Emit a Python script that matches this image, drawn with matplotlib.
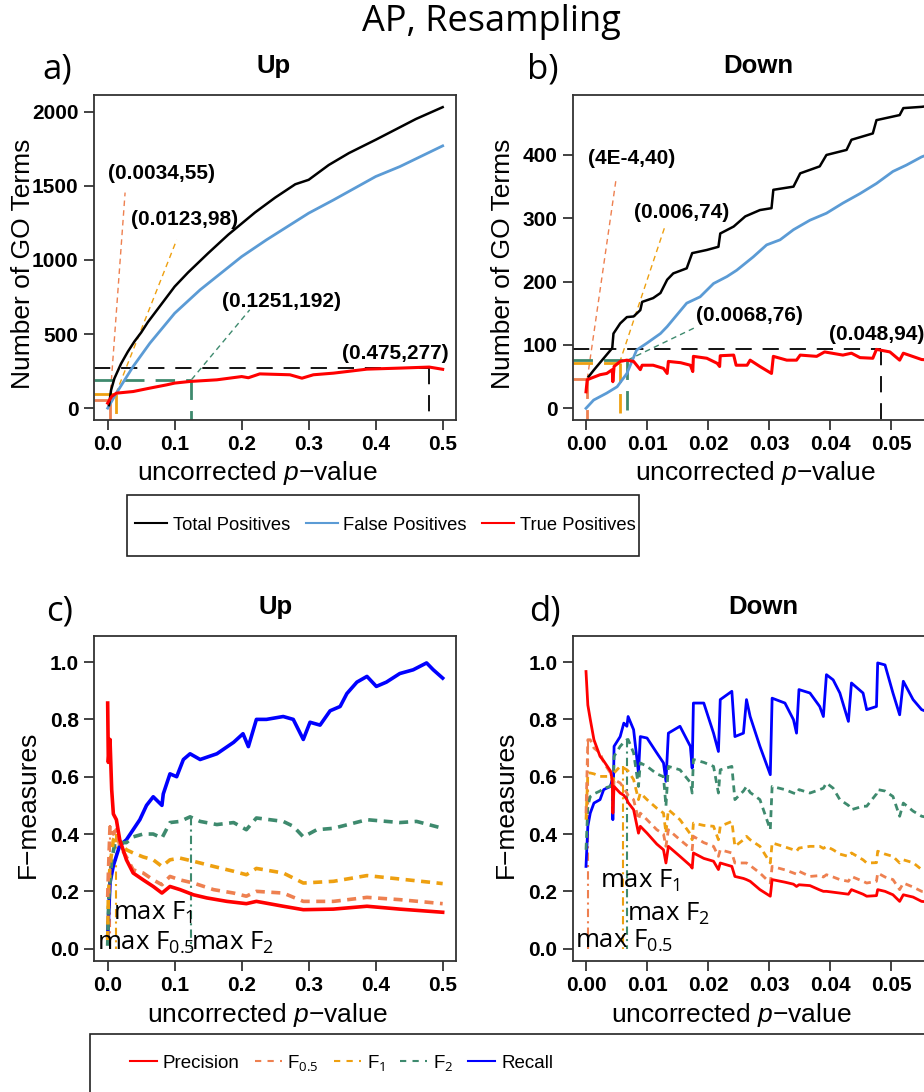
import matplotlib
matplotlib.use('Agg')
import matplotlib.pyplot as plt
from matplotlib.lines import Line2D
from matplotlib.patches import Rectangle
from matplotlib.font_manager import FontProperties

plt.rcParams['mathtext.fontset'] = 'custom'
plt.rcParams['mathtext.rm'] = 'Open Sans'
plt.rcParams['mathtext.it'] = 'Liberation Sans:italic'
plt.rcParams['font.family'] = ['Liberation Sans', 'DejaVu Sans']

# ---------------- colours ----------------
C_TOTAL = '#000000'
C_FALSE = '#5B9BD5'
C_TRUE = '#FF0000'
C_PREC = '#FF0000'
C_F05 = '#EE8050'
C_F1 = '#EEA010'
C_F2 = '#3E8A6E'
C_REC = '#0000FF'

# ---------------- panel a : Up, counts ----------------
a_total_x = [0.002, 0.005, 0.01, 0.02, 0.03, 0.04, 0.05, 0.06, 0.08, 0.10, 0.12, 0.15, 0.18, 0.20,
             0.22, 0.25, 0.28, 0.30, 0.33, 0.36, 0.40, 0.43, 0.46, 0.50]
a_total_y = [20, 120, 200, 300, 380, 450, 510, 580, 700, 820, 915, 1045, 1170, 1245,
             1320, 1420, 1510, 1540, 1640, 1720, 1810, 1880, 1950, 2030]
a_false_x = [0.0, 0.013, 0.038, 0.063, 0.10, 0.138, 0.20, 0.237, 0.30, 0.337, 0.40, 0.436, 0.50]
a_false_y = [0, 101, 281, 438, 640, 798, 1022, 1135, 1315, 1404, 1562, 1629, 1769]
a_true_x = [0.0, 0.006, 0.013, 0.038, 0.063, 0.088, 0.10, 0.123, 0.163, 0.20, 0.21, 0.227, 0.272,
            0.29, 0.307, 0.337, 0.387, 0.436, 0.48, 0.50]
a_true_y = [34, 79, 101, 112, 135, 157, 169, 180, 191, 213, 205, 231, 225,
            202, 225, 236, 263, 270, 277, 262]
a_ref_x = [0.0034, 0.0123, 0.1251, 0.48]
a_ref_y = [55, 98, 192, 270]
a_ref_lab = ['(0.0034,55)', '(0.0123,98)', '(0.1251,192)', '(0.475,277)']
a_lead_x = [0.026, 0.103, 0.212]
a_lead_y = [1454, 1135, 663]
a_lab_x = [0.081, 0.115, 0.26, 0.429]
a_lab_y = [1580, 1270, 719, 371]

# ---------------- panel b : Down, counts ----------------
b_total_x = [0.00044, 0.00125, 0.0029, 0.0043, 0.0045, 0.0056, 0.0067, 0.0078, 0.0089, 0.0092, 0.011,
             0.0122, 0.0133, 0.0143, 0.0165, 0.0174, 0.0198, 0.0217, 0.022, 0.0242, 0.0261, 0.0285,
             0.0304, 0.0307, 0.034, 0.0351, 0.0383, 0.0394, 0.0427, 0.0435, 0.047, 0.0476, 0.0514,
             0.052, 0.055, 0.0567]
b_total_y = [50, 60, 79, 95, 118, 134, 144, 145, 155, 168, 174,
             182, 203, 213, 221, 245, 250, 255, 276, 287, 303, 313,
             316, 345, 350, 371, 382, 400, 408, 424, 434, 455, 463,
             474, 476, 478]
b_false_x = [0.0, 0.00125, 0.0034, 0.0051, 0.0067, 0.0083, 0.01, 0.0122, 0.0133, 0.0165, 0.0187,
             0.0209, 0.0231, 0.0247, 0.0274, 0.0296, 0.0318, 0.034, 0.0367, 0.0394, 0.0421, 0.0449,
             0.0476, 0.0503, 0.0525, 0.055, 0.0567]
b_false_y = [0, 13, 24, 34, 55, 92, 103, 118, 129, 166, 176,
             197, 208, 218, 239, 258, 266, 282, 297, 308, 324, 339,
             355, 374, 384, 397, 403]
b_true_x = [0.0, 0.0002, 0.0007, 0.0023, 0.0034, 0.0043, 0.0044, 0.0046, 0.0056, 0.0067, 0.0078,
            0.0089, 0.0092, 0.011, 0.0127, 0.0133, 0.0135, 0.0155, 0.0171, 0.0175, 0.0176, 0.0198,
            0.0215, 0.0219, 0.022, 0.0242, 0.0246, 0.0264, 0.0269, 0.0285, 0.0304, 0.0307, 0.0329,
            0.0345, 0.0351, 0.0378, 0.0391, 0.0421, 0.0435, 0.0449, 0.047, 0.0476, 0.0498, 0.0514,
            0.052, 0.055, 0.0567]
b_true_y = [26, 45, 47, 53, 55, 61, 42, 66, 74, 76, 74,
            61, 68, 68, 63, 55, 74, 72, 68, 58, 82, 79,
            71, 66, 83, 84, 68, 68, 76, 66, 55, 82, 76,
            76, 84, 82, 89, 84, 87, 80, 79, 93, 89, 76,
            87, 77, 76]
b_ref_x = [0.0002, 0.0055, 0.0068, 0.0483]
b_ref_y = [46, 72, 76, 94]
b_ref_lab = ['(4E-4,40)', '(0.006,74)', '(0.0068,76)', '(0.048,94)']
b_lead_x = [0.0049, 0.013, 0.0182]
b_lead_y = [360, 289, 129]
b_lab_x = [0.0074, 0.0157, 0.0268, 0.0476]
b_lab_y = [395, 309, 147, 116]

# ---------------- panel c : Up, F-measures ----------------
c_rec_x = [0.0, 0.0035, 0.0085, 0.018, 0.028, 0.038, 0.048, 0.058, 0.068, 0.081, 0.083, 0.093, 0.103,
           0.113, 0.123, 0.138, 0.163, 0.188, 0.202, 0.21, 0.222, 0.237, 0.262, 0.277, 0.292, 0.302,
           0.317, 0.332, 0.347, 0.357, 0.372, 0.387, 0.401, 0.416, 0.436, 0.456, 0.476, 0.486, 0.50]
c_rec_y = [0.043, 0.23, 0.29, 0.36, 0.38, 0.415, 0.45, 0.50, 0.53, 0.50, 0.54, 0.61, 0.60,
           0.66, 0.68, 0.66, 0.68, 0.72, 0.75, 0.705, 0.80, 0.80, 0.81, 0.80, 0.73, 0.79,
           0.78, 0.83, 0.845, 0.89, 0.93, 0.95, 0.915, 0.93, 0.96, 0.973, 0.997, 0.973, 0.944]
c_prec_x = [0.0, 0.001, 0.0035, 0.006, 0.0085, 0.013, 0.018, 0.028, 0.038, 0.053, 0.068, 0.081, 0.093,
            0.108, 0.128, 0.148, 0.178, 0.207, 0.222, 0.262, 0.292, 0.337, 0.387, 0.436, 0.50]
c_prec_y = [0.857, 0.65, 0.73, 0.555, 0.47, 0.45, 0.38, 0.31, 0.264, 0.24, 0.217, 0.194, 0.217,
            0.206, 0.188, 0.177, 0.165, 0.157, 0.165, 0.148, 0.136, 0.138, 0.148, 0.138, 0.127]
c_f05_x = [0.0, 0.001, 0.0035, 0.0085, 0.013, 0.018, 0.028, 0.038, 0.053, 0.068, 0.081, 0.093, 0.108,
           0.128, 0.158, 0.188, 0.207, 0.222, 0.262, 0.292, 0.337, 0.387, 0.436, 0.50]
c_f05_y = [0.18, 0.26, 0.43, 0.40, 0.415, 0.36, 0.32, 0.275, 0.264, 0.24, 0.223, 0.252, 0.24,
           0.229, 0.206, 0.194, 0.183, 0.20, 0.194, 0.165, 0.165, 0.179, 0.171, 0.157]
c_f1_x = [0.0, 0.001, 0.0035, 0.0085, 0.013, 0.018, 0.028, 0.038, 0.053, 0.068, 0.081, 0.093, 0.108,
          0.128, 0.158, 0.188, 0.207, 0.222, 0.262, 0.292, 0.337, 0.387, 0.436, 0.50]
c_f1_y = [0.03, 0.18, 0.29, 0.38, 0.40, 0.37, 0.345, 0.334, 0.32, 0.31, 0.287, 0.31, 0.316,
          0.305, 0.287, 0.27, 0.258, 0.28, 0.264, 0.229, 0.235, 0.255, 0.243, 0.227]
c_f2_x = [0.0, 0.0015, 0.006, 0.011, 0.018, 0.028, 0.038, 0.053, 0.068, 0.081, 0.093, 0.108, 0.123,
          0.138, 0.163, 0.188, 0.207, 0.222, 0.262, 0.277, 0.292, 0.312, 0.337, 0.387, 0.436, 0.461, 0.50]
c_f2_y = [0.01, 0.17, 0.31, 0.37, 0.37, 0.37, 0.39, 0.40, 0.40, 0.386, 0.44, 0.444, 0.46,
          0.444, 0.433, 0.44, 0.415, 0.456, 0.444, 0.427, 0.39, 0.415, 0.42, 0.45, 0.44, 0.444, 0.42]
c_max_x = [0.0034, 0.0123, 0.1251]
c_max_top = [0.43, 0.40, 0.46]
c_max_lab = ['max F$_{0.5}$', 'max F$_{1}$', 'max F$_{2}$']
c_maxlab_x = [-0.0164, 0.0085, 0.124]
c_maxlab_y = [-0.003, 0.101, -0.003]

# ---------------- panel d : Down, F-measures ----------------
d_x = [0.0, 0.0003, 0.0007, 0.0013, 0.0023, 0.0029, 0.004, 0.0043, 0.0044, 0.0046, 0.0056, 0.0062,
       0.0067, 0.0069, 0.0078, 0.0086, 0.0089, 0.01, 0.0116, 0.0127, 0.0131, 0.0135, 0.0154, 0.0171,
       0.0174, 0.0176, 0.0193, 0.0209, 0.0217, 0.022, 0.0239, 0.0244, 0.0258, 0.0263, 0.0269, 0.0285,
       0.0302, 0.0305, 0.0326, 0.034, 0.0345, 0.0349, 0.0367, 0.0383, 0.0389, 0.0394, 0.0405, 0.0416,
       0.043, 0.0435, 0.0454, 0.046, 0.0476, 0.0478, 0.049, 0.0503, 0.0514, 0.052, 0.0536, 0.055, 0.0567]
d_rec_y = [0.287, 0.427, 0.473, 0.508, 0.52, 0.555, 0.566, 0.59, 0.45, 0.706, 0.74, 0.787,
           0.776, 0.81, 0.764, 0.613, 0.74, 0.735, 0.683, 0.648, 0.584, 0.752, 0.776, 0.706,
           0.63, 0.857, 0.857, 0.752, 0.688, 0.869, 0.898, 0.74, 0.752, 0.869, 0.81, 0.706,
           0.607, 0.874, 0.857, 0.799, 0.752, 0.904, 0.892, 0.845, 0.81, 0.956, 0.938, 0.892,
           0.793, 0.927, 0.892, 0.834, 0.845, 0.997, 0.99, 0.892, 0.816, 0.933, 0.869, 0.834, 0.82]
d_prec_y = [0.967, 0.85, 0.80, 0.729, 0.671, 0.655, 0.62, 0.59, 0.473, 0.566, 0.543, 0.535,
            0.52, 0.51, 0.485, 0.403, 0.427, 0.403, 0.365, 0.345, 0.299, 0.357, 0.322, 0.29,
            0.281, 0.334, 0.315, 0.305, 0.276, 0.299, 0.287, 0.252, 0.245, 0.241, 0.235, 0.206,
            0.183, 0.241, 0.232, 0.225, 0.217, 0.223, 0.22, 0.205, 0.2, 0.2, 0.197, 0.194,
            0.19, 0.206, 0.19, 0.183, 0.185, 0.206, 0.2, 0.188, 0.165, 0.188, 0.18, 0.165, 0.162]
d_f05_y = [0.473, 0.729, 0.729, 0.70, 0.683, 0.65, 0.613, 0.59, 0.497, 0.59, 0.578, 0.56,
           0.543, 0.535, 0.52, 0.45, 0.473, 0.45, 0.415, 0.40, 0.357, 0.415, 0.38, 0.35,
           0.345, 0.392, 0.37, 0.357, 0.322, 0.345, 0.334, 0.299, 0.299, 0.299, 0.29, 0.264,
           0.229, 0.287, 0.275, 0.264, 0.26, 0.27, 0.252, 0.255, 0.25, 0.258, 0.25, 0.241,
           0.235, 0.252, 0.235, 0.229, 0.235, 0.264, 0.25, 0.241, 0.206, 0.229, 0.215, 0.2, 0.2]
d_f1_y = [0.45, 0.613, 0.613, 0.61, 0.601, 0.601, 0.601, 0.59, 0.543, 0.613, 0.636, 0.63,
          0.624, 0.62, 0.59, 0.52, 0.543, 0.52, 0.49, 0.473, 0.403, 0.485, 0.45, 0.40,
          0.38, 0.438, 0.43, 0.427, 0.38, 0.427, 0.444, 0.357, 0.38, 0.392, 0.38, 0.357,
          0.299, 0.369, 0.355, 0.345, 0.34, 0.351, 0.357, 0.357, 0.35, 0.357, 0.345, 0.33,
          0.322, 0.334, 0.31, 0.299, 0.3, 0.34, 0.33, 0.322, 0.299, 0.31, 0.3, 0.276, 0.27]
d_f2_y = [0.345, 0.497, 0.531, 0.54, 0.55, 0.56, 0.566, 0.59, 0.52, 0.671, 0.706, 0.72,
          0.729, 0.73, 0.683, 0.566, 0.648, 0.636, 0.61, 0.60, 0.497, 0.636, 0.624, 0.58,
          0.543, 0.66, 0.65, 0.636, 0.543, 0.624, 0.636, 0.52, 0.55, 0.566, 0.545, 0.52,
          0.415, 0.566, 0.555, 0.543, 0.54, 0.555, 0.543, 0.555, 0.56, 0.578, 0.56, 0.52,
          0.5, 0.485, 0.497, 0.497, 0.54, 0.555, 0.55, 0.531, 0.462, 0.508, 0.48, 0.462, 0.455]
d_max_x = [0.0004, 0.006, 0.0068]
d_max_top = [0.729, 0.636, 0.73]
d_max_lab = ['max F$_{0.5}$', 'max F$_{1}$', 'max F$_{2}$']
d_maxlab_x = [-0.00174, 0.00224, 0.0067]
d_maxlab_y = [0.002, 0.212, 0.098]

# ---------------- figure ----------------
W, H = 924, 1092
fig = plt.figure(figsize=(W / 100, H / 100), dpi=100)


def fig_rect(x0, x1, y0, y1):
    return [x0 / W, 1 - y1 / H, (x1 - x0) / W, (y1 - y0) / H]


axA = fig.add_axes(fig_rect(94, 456, 95, 420))
axB = fig.add_axes(fig_rect(572.7, 932, 95, 420))
axC = fig.add_axes(fig_rect(94, 456, 635.7, 960.7))
axD = fig.add_axes(fig_rect(572.7, 932, 635.7, 960.7))

tick_font = dict(fontsize=15, fontweight='bold')
lab_font = dict(fontsize=19, family=['Liberation Sans', 'DejaVu Sans'])
ann_font = dict(fontsize=15, fontweight='bold')
max_font = dict(fontsize=18.5, family=['Open Sans', 'DejaVu Sans'])


def style(ax, xt, xtl, yt, ytl, xlim, ylim):
    ax.set_xlim(*xlim)
    ax.set_ylim(*ylim)
    ax.set_xticks(xt)
    ax.set_xticklabels(xtl, **tick_font)
    ax.set_yticks(yt)
    ax.set_yticklabels(ytl, **tick_font)
    ax.tick_params(direction='out', length=7, width=1.2, pad=4, color='#222222')
    for s in ax.spines.values():
        s.set_linewidth(1.3)
        s.set_color('#333333')


xt_up = [0.0, 0.1, 0.2, 0.3, 0.4, 0.5]
xt_up_l = ['0.0', '0.1', '0.2', '0.3', '0.4', '0.5']
xt_dn = [0.0, 0.01, 0.02, 0.03, 0.04, 0.05]
xt_dn_l = ['0.00', '0.01', '0.02', '0.03', '0.04', '0.05']
yt_f = [0.0, 0.2, 0.4, 0.6, 0.8, 1.0]
yt_f_l = ['0.0', '0.2', '0.4', '0.6', '0.8', '1.0']

XL_UP = (-0.0204, 0.5199)
XL_DN = (-0.00218, 0.0567)
style(axA, xt_up, xt_up_l, [0, 500, 1000, 1500, 2000], ['0', '500', '1000', '1500', '2000'],
      XL_UP, (-80, 2112))
style(axB, xt_dn, xt_dn_l, [0, 100, 200, 300, 400], ['0', '100', '200', '300', '400'],
      XL_DN, (-18.5, 494.7))
style(axC, xt_up, xt_up_l, yt_f, yt_f_l, XL_UP, (-0.042, 1.092))
style(axD, xt_dn, xt_dn_l, yt_f, yt_f_l, XL_DN, (-0.042, 1.092))

# ---- count panels ----
ref_cols = [C_F05, C_F1, C_F2, '#000000']


def count_panel(ax, tx, ty, fx, fy, rx, ry, refx, refy, reflab, leadx, leady, labx, laby):
    xl = ax.get_xlim()
    yl = ax.get_ylim()
    for i in range(4):
        c = ref_cols[i]
        lw = 1.3 if i == 3 else 2.0
        d = (7, 4) if i < 3 else (9, 6)
        ax.plot([xl[0], refx[i]], [refy[i], refy[i]], color=c, lw=lw, dashes=d)
        ax.plot([refx[i], refx[i]], [refy[i], yl[0]], color=c, lw=lw, dashes=d)
        if i < 3:
            ax.plot([refx[i], leadx[i]], [refy[i], leady[i]], color=c, lw=1.0, dashes=(4, 3))
        ax.text(labx[i], laby[i], reflab[i], ha='center', va='center', **ann_font)
    ax.plot(fx, fy, color=C_FALSE, lw=2.0)
    ax.plot(tx, ty, color=C_TOTAL, lw=1.8)
    ax.plot(rx, ry, color=C_TRUE, lw=2.2)


count_panel(axA, a_total_x, a_total_y, a_false_x, a_false_y, a_true_x, a_true_y,
            a_ref_x, a_ref_y, a_ref_lab, a_lead_x, a_lead_y, a_lab_x, a_lab_y)
count_panel(axB, b_total_x, b_total_y, b_false_x, b_false_y, b_true_x, b_true_y,
            b_ref_x, b_ref_y, b_ref_lab, b_lead_x, b_lead_y, b_lab_x, b_lab_y)

# ---- F panels ----
max_cols = [C_F05, C_F1, C_F2]


def f_panel(ax, series, mx, mtop, mlab, mlx, mly, lw):
    for i in range(3):
        ax.plot([mx[i], mx[i]], [mtop[i], 0], color=max_cols[i], lw=1.5, dashes=(4, 2, 1, 2))
    for x, y, c, dash in series:
        if dash:
            ax.plot(x, y, color=c, lw=lw, dashes=(2.5, 1.8))
        else:
            ax.plot(x, y, color=c, lw=lw)
    for i in range(3):
        ax.text(mlx[i], mly[i], mlab[i], ha='left', va='baseline', **max_font)


f_panel(axC, [(c_rec_x, c_rec_y, C_REC, False), (c_f2_x, c_f2_y, C_F2, True),
              (c_f1_x, c_f1_y, C_F1, True), (c_f05_x, c_f05_y, C_F05, True),
              (c_prec_x, c_prec_y, C_PREC, False)],
        c_max_x, c_max_top, c_max_lab, c_maxlab_x, c_maxlab_y, 2.6)
f_panel(axD, [(d_x, d_rec_y, C_REC, False), (d_x, d_f2_y, C_F2, True),
              (d_x, d_f1_y, C_F1, True), (d_x, d_f05_y, C_F05, True),
              (d_x, d_prec_y, C_PREC, False)],
        d_max_x, d_max_top, d_max_lab, d_maxlab_x, d_maxlab_y, 2.0)

# ---- axis labels ----
xlab = 'uncorrected $p$\u2212value'
for ax, xc, yc in [(axA, 0.45, -0.163), (axB, 0.509, -0.163), (axC, 0.479, -0.167), (axD, 0.44, -0.167)]:
    ax.text(xc, yc, xlab, transform=ax.transAxes, ha='center', va='center', **lab_font)
for ax, xc, txt in [(axA, -0.196, 'Number of GO Terms'), (axB, -0.194, 'Number of GO Terms'),
                    (axC, -0.182, 'F\u2212measures'), (axD, -0.186, 'F\u2212measures')]:
    ax.text(xc, 0.48, txt, transform=ax.transAxes, rotation=90, ha='center', va='center', **lab_font)

# ---- panel titles ----
for x, y, txt in [(273.5, 73, 'Up'), (758.5, 73, 'Down'), (276, 614, 'Up'), (763, 614, 'Down')]:
    fig.text(x / W, 1 - y / H, txt, ha='center', va='baseline', fontsize=18.5, fontweight='bold')

sans2 = ['Open Sans', 'DejaVu Sans']
fig.text(491 / W, 1 - 31 / H, 'AP, Resampling', ha='center', va='baseline', fontsize=26, family=sans2)
for x, y, t in [(57, 70, 'a)'), (543, 70, 'b)'), (60, 611, 'c)'), (545, 611, 'd)')]:
    fig.text(x / W, 1 - y / H, t, ha='center', va='center', fontsize=25, family=sans2)

# ---- legends ----
leg1_font = FontProperties(family=['Liberation Sans', 'DejaVu Sans'], size=13.2)
leg2_font = FontProperties(family=['Liberation Sans', 'DejaVu Sans'], size=13.5)

fig.patches.append(Rectangle((127 / W, 1 - 556 / H), 512 / W, 61 / H, transform=fig.transFigure,
                             fill=False, edgecolor='#222222', lw=1.2))
h1 = [Line2D([], [], color=C_TOTAL, lw=1.5), Line2D([], [], color=C_FALSE, lw=1.5),
      Line2D([], [], color=C_TRUE, lw=1.5)]
fig.legend(h1, ['Total Positives', 'False Positives', 'True Positives'], loc='center',
           bbox_to_anchor=(385.5 / W, 1 - 525 / H), ncol=3, frameon=False, prop=leg1_font,
           handlelength=1.75, handletextpad=0.3, columnspacing=0.85, borderpad=0.0, borderaxespad=0.0)

fig.patches.append(Rectangle((90 / W, 1 - 1110 / H), 900 / W, 76 / H, transform=fig.transFigure,
                             fill=False, edgecolor='#222222', lw=1.2))
h2 = [Line2D([], [], color=C_PREC, lw=1.5), Line2D([], [], color=C_F05, lw=1.5, dashes=(3, 3)),
      Line2D([], [], color=C_F1, lw=1.5, dashes=(3, 3)), Line2D([], [], color=C_F2, lw=1.5, dashes=(3, 3)),
      Line2D([], [], color=C_REC, lw=1.5)]
fig.legend(h2, ['Precision', 'F$_{0.5}$', 'F$_{1}$', 'F$_{2}$', 'Recall'], loc='center',
           bbox_to_anchor=(341.5 / W, 1 - 1063 / H), ncol=5, frameon=False, prop=leg2_font,
           handlelength=1.45, handletextpad=0.3, columnspacing=0.8, borderpad=0.0, borderaxespad=0.0)

fig.savefig('out.png', dpi=100)
